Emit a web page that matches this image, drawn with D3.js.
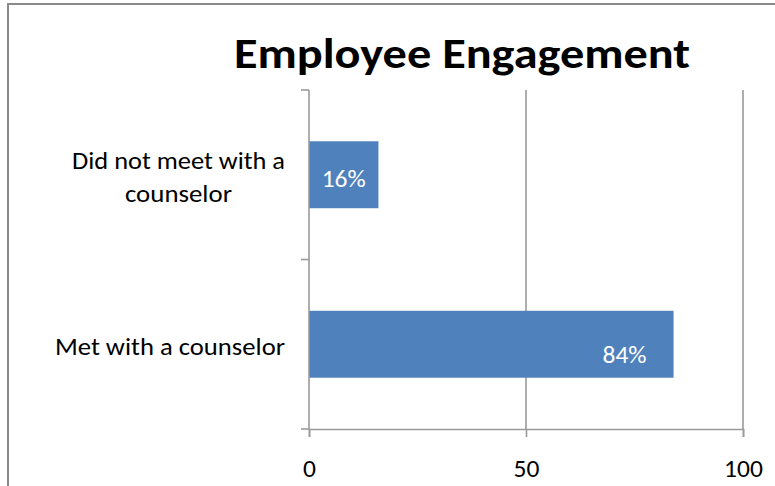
<!DOCTYPE html>
<html><head><meta charset="utf-8">
<script src="https://cdn.jsdelivr.net/npm/d3@7"></script>
<style>html,body{margin:0;padding:0;background:#fff;}svg{display:block;font-family:Carlito,Lato,"Open Sans",sans-serif;}</style>
</head><body>
<script>
const categories = ["Did not meet with a counselor", "Met with a counselor"];
const categoryLines = [["Did not meet with a", "counselor"], ["Met with a counselor"]];
const values = [16, 84];
const valueLabels = ["16%", "84%"];
const xTicks = [0, 50, 100];
const title = "Employee Engagement";

const W = 775, H = 486;
const FONT = 'Carlito,Lato,"Open Sans",sans-serif';
const svg = d3.select("body").append("svg").attr("width", W).attr("height", H);
svg.append("rect").attr("width", W).attr("height", H).attr("fill", "#fff");
svg.append("rect").attr("x", 8).attr("y", 4).attr("width", W + 10).attr("height", H + 10)
  .attr("fill", "none").attr("stroke", "#8a8a8a").attr("stroke-width", 2);

const x = d3.scaleLinear().domain([0, 100]).range([309, 743]);
const y = d3.scaleBand().domain(categories).range([90, 429]).padding(0);
const barFrac = 0.395;
const axisColor = "#9a9a9a";

// gridlines
svg.append("g").selectAll("line").data(xTicks.filter(d => d > 0)).join("line")
  .attr("x1", d => x(d)).attr("x2", d => x(d)).attr("y1", 90).attr("y2", 429)
  .attr("stroke", axisColor).attr("stroke-width", 1.6);

// bars
const barH = y.bandwidth() * barFrac;
svg.append("g").selectAll("rect").data(values).join("rect")
  .attr("x", x(0)).attr("width", d => x(d) - x(0))
  .attr("y", (d, i) => y(categories[i]) + (y.bandwidth() - barH) / 2)
  .attr("height", barH).attr("fill", "#4F81BD");

// x axis
const xAxis = svg.append("g").attr("transform", "translate(0,429)")
  .call(d3.axisBottom(x).tickValues(xTicks).tickSize(8).tickPadding(25).tickFormat(d3.format("d")));
xAxis.select(".domain").attr("stroke", axisColor).attr("stroke-width", 1.6);
xAxis.selectAll(".tick line").attr("stroke", axisColor).attr("stroke-width", 1.6);
xAxis.selectAll(".tick text").attr("fill", "#000").attr("font-size", 25.5).attr("font-family", FONT)
  .attr("dy", null).attr("y", 48.3);

// y axis line and ticks at band boundaries
const bounds = categories.map(c => y(c)).concat([y.range()[1]]);
svg.append("line").attr("x1", x(0)).attr("x2", x(0)).attr("y1", 90).attr("y2", 429)
  .attr("stroke", axisColor).attr("stroke-width", 1.6);
svg.append("g").selectAll("line").data(bounds).join("line")
  .attr("x1", x(0) - 8).attr("x2", x(0)).attr("y1", d => d).attr("y2", d => d)
  .attr("stroke", axisColor).attr("stroke-width", 1.6);

// category labels
const lineH = 33.4;
const catWidths = [[213, 107], [230]];
categories.forEach((c, i) => {
  const lines = categoryLines[i];
  const cy = y(c) + y.bandwidth() / 2;
  const t = svg.append("text").attr("font-size", 24.5).attr("fill", "#000").attr("text-anchor", "middle");
  lines.forEach((l, j) => {
    t.append("tspan").attr("x", 0).attr("y", cy + 10.5 + (j - (lines.length - 1) / 2) * lineH)
      .attr("textLength", catWidths[i][j]).attr("lengthAdjust", "spacingAndGlyphs").text(l);
  });
  const w = d3.max(catWidths[i]);
  t.attr("transform", `translate(${285 - w / 2},0)`);
});

// value labels
const labelShift = [12.25, 19];
values.forEach((v, i) => {
  const t = svg.append("text").attr("fill", "#fff").attr("font-size", 25.5).text(valueLabels[i]);
  const w = t.node().getComputedTextLength();
  const bw = x(v) - x(0);
  const pad = Math.min(27, (bw - w) / 2);
  t.attr("x", x(v) - pad - w).attr("y", y(categories[i]) + y.bandwidth() / 2 + labelShift[i]);
});

// title
svg.append("text").attr("x", 234).attr("y", 68.3)
  .attr("font-size", 43).attr("font-weight", "bold").attr("fill", "#000")
  .attr("textLength", 456).attr("lengthAdjust", "spacingAndGlyphs").text(title);
</script>
</body></html>
